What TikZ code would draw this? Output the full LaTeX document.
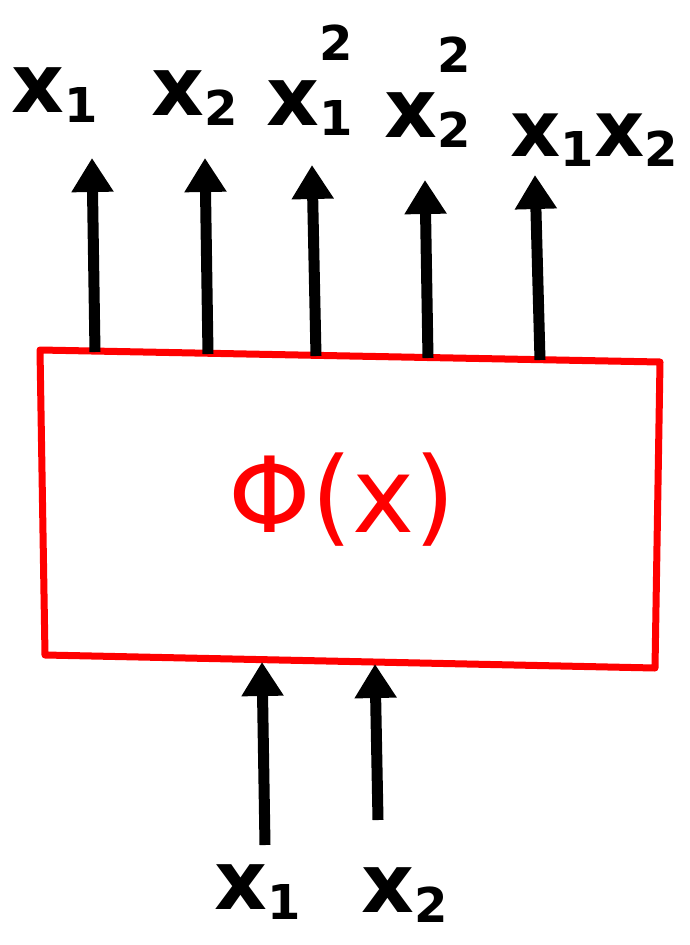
\documentclass[tikz,border=0pt]{standalone}
\usepackage{fontspec}
\setmainfont{DejaVu Sans}
\usetikzlibrary{arrows.meta}
\newcommand\bigx{\fontsize{82}{82}\selectfont\bfseries}
\newcommand\smx{\fontsize{48}{48}\selectfont\bfseries}
\newcommand\xsub[1]{x\raisebox{-0.12em}{\smx #1}}
\newcommand\xsubsup[2]{x\rlap{\raisebox{-0.12em}{\smx #1}}\raisebox{0.8em}{\smx #2}}
\tikzset{
  arr/.style={line width=11pt,-{Triangle[length=34pt,width=40pt]}},
  lab/.style={inner sep=0pt,font=\bigx},
}
\begin{document}
\begin{tikzpicture}[x=1pt,y=-1pt]
\useasboundingbox (0,0) rectangle (689,945);
% box
\draw[red,line width=7pt,line join=round] (40,350) -- (660,362) -- (655,668) -- (45,655) -- cycle;
\node[inner sep=0pt,text=red,font=\fontsize{105}{105}\selectfont] (phi) at (342,500) {Φ(x)};
% arrow end points
\coordinate (b1) at (95,352);
\coordinate (b2) at (208,354);
\coordinate (b3) at (316,356);
\coordinate (b4) at (428,358);
\coordinate (b5) at (540,360);
\coordinate (t1) at (92,158);
\coordinate (t2) at (205,158);
\coordinate (t3) at (312,165);
\coordinate (t4) at (425,180);
\coordinate (t5) at (535,175);
\foreach \i in {1,...,5}{\draw[arr] (b\i) -- (t\i);}
% top labels
\node[lab] (l1) at (55,95) {\xsub{1}};
\node[lab] (l2) at (195,98) {\xsub{2}};
\node[lab] (l3) at (310,80) {\xsubsup{1}{2}};
\node[lab] (l4) at (428,92) {\xsubsup{2}{2}};
\node[lab,font=\fontsize{78}{78}\selectfont\bfseries] (l5) at (594,140) {\xsub{1}\xsub{2}};
% bottom arrows
\coordinate (c1) at (265,845);
\coordinate (c2) at (378,820);
\coordinate (d1) at (262,662);
\coordinate (d2) at (375,664);
\draw[arr] (c1) -- (d1);
\draw[arr] (c2) -- (d2);
\node[lab] (m1) at (258,892) {\xsub{1}};
\node[lab] (m2) at (405,895) {\xsub{2}};
\end{tikzpicture}
\end{document}
